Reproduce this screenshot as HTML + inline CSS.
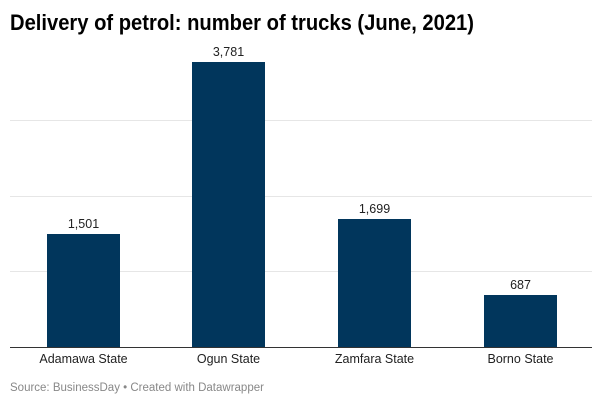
<!DOCTYPE html><html><head><style>
body{margin:0;background:#fff;width:602px;height:408px;overflow:hidden;font-family:"Liberation Sans",sans-serif;}
</style></head><body>
<svg width="602" height="408" xmlns="http://www.w3.org/2000/svg" font-family="Liberation Sans, sans-serif">
<text x="10" y="30" font-size="22" font-weight="bold" fill="#000" textLength="464" lengthAdjust="spacingAndGlyphs">Delivery of petrol: number of trucks (June, 2021)</text>
<g stroke="#e6e6e6" stroke-width="1">
<line x1="10" x2="592" y1="120.5" y2="120.5"/>
<line x1="10" x2="592" y1="196.5" y2="196.5"/>
<line x1="10" x2="592" y1="271.5" y2="271.5"/>
</g>
<g fill="#01365c">
<rect x="47" y="234" width="73" height="113"/>
<rect x="192" y="62" width="73" height="285"/>
<rect x="338" y="219" width="73" height="128"/>
<rect x="484" y="295" width="73" height="52"/>
</g>
<line x1="10" x2="592" y1="347.5" y2="347.5" stroke="#333" stroke-width="1"/>
<g font-size="12.5" fill="#222" text-anchor="middle">
<text x="83.5" y="228">1,501</text>
<text x="228.5" y="56">3,781</text>
<text x="374.5" y="213">1,699</text>
<text x="520.5" y="289">687</text>
<text x="83.5" y="363">Adamawa State</text>
<text x="228.5" y="363">Ogun State</text>
<text x="374.5" y="363">Zamfara State</text>
<text x="520.5" y="363">Borno State</text>
</g>
<text x="10" y="391" font-size="11.5" fill="#888">Source: BusinessDay • Created with Datawrapper</text>
</svg>
</body></html>
